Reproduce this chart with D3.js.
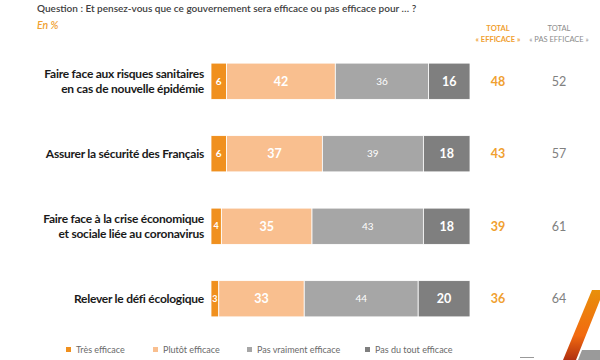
<!DOCTYPE html>
<html><head><meta charset="utf-8">
<script src="https://cdn.jsdelivr.net/npm/d3@7"></script>
<style>body{margin:0;background:#fff}svg{display:block;font-family:Lato,"Open Sans",sans-serif}</style>
</head><body><svg id="c" width="600" height="360"></svg>
<script>
const categories = [
  ["Faire face aux risques sanitaires","en cas de nouvelle épidémie"],
  ["Assurer la sécurité des Français"],
  ["Faire face à la crise économique","et sociale liée au coronavirus"],
  ["Relever le défi écologique"]
];
const seriesNames = ["Très efficace","Plutôt efficace","Pas vraiment efficace","Pas du tout efficace"];
const tresEfficace = [6,6,4,3];
const plutotEfficace = [42,37,35,33];
const pasVraiment = [36,39,43,44];
const pasDuTout = [16,18,18,20];
const totalEfficace = [48,43,39,36];
const totalPasEfficace = [52,57,61,64];
const colors = ["#F0901E","#F9BF8F","#A6A6A6","#7F7F7F"];

const svg = d3.select("#c");
const series = [tresEfficace, plutotEfficace, pasVraiment, pasDuTout];
const x = d3.scaleLinear().domain([0,100]).range([211,470]);
const y = d3.scaleBand().domain(d3.range(categories.length)).range([45,335]).paddingInner(0.5).paddingOuter(0.25);

// header
svg.append("text").attr("x",37).attr("y",12).attr("font-size",10).attr("font-weight",600).attr("fill","#404040")
  .text("Question : Et pensez-vous que ce gouvernement sera efficace ou pas efficace pour … ?");
svg.append("text").attr("x",37).attr("y",29).attr("font-size",10.5).attr("font-style","italic").attr("font-weight",600).attr("fill","#F0A030").text("En  %");
const hdr = [[498,"TOTAL","« EFFICACE »","#F0A030"],[559,"TOTAL","« PAS EFFICACE »","#8C8C8C"]];
hdr.forEach(h=>{
  const t = svg.append("text").attr("text-anchor","middle").attr("font-size",7.5).attr("fill",h[3]).attr("font-weight",h[3]==="#F0A030"?700:400);
  t.append("tspan").attr("x",h[0]).attr("y",31).text(h[1]);
  t.append("tspan").attr("x",h[0]).attr("y",42).text(h[2]);
});

const stacked = categories.map((c,i)=>{
  let acc=0;
  return series.map((s,k)=>{const o={i,k,v:s[i],x0:acc,x1:acc+s[i]};acc+=s[i];return o;});
});

const g = svg.append("g");
stacked.forEach(row=>{
  row.forEach(d=>{
    g.append("rect").attr("x",x(d.x0)).attr("y",y(d.i)).attr("width",x(d.x1)-x(d.x0)).attr("height",y.bandwidth())
      .attr("fill",colors[d.k]).attr("stroke","#fff").attr("stroke-width",0.8);
    const small = d.k===2;
    g.append("text").attr("x",(x(d.x0)+x(d.x1))/2).attr("y",y(d.i)+y.bandwidth()/2).attr("dy","0.35em")
      .attr("text-anchor","middle").attr("fill","#fff").attr("font-weight",small?400:700)
      .attr("font-size",d.k===0?(d.v<5?9:10):(small?10:12.5)).text(d.v);
  });
});

// category labels
categories.forEach((c,i)=>{
  const cy = y(i)+y.bandwidth()/2;
  const t = svg.append("text").attr("text-anchor","end").attr("font-size",12).attr("letter-spacing",-0.25).attr("font-weight",700).attr("fill","#1a1a1a");
  c.forEach((line,j)=>{
    t.append("tspan").attr("x",204).attr("y",cy + (j-(c.length-1)/2)*15).attr("dy","0.35em").text(line);
  });
  svg.append("text").attr("x",498).attr("y",cy).attr("dy","0.35em").attr("text-anchor","middle").attr("font-size",12.5).attr("font-weight",700).attr("fill","#F0A030").text(totalEfficace[i]);
  svg.append("text").attr("x",559).attr("y",cy).attr("dy","0.35em").attr("text-anchor","middle").attr("font-size",12.5).attr("fill","#808080").text(totalPasEfficace[i]);
});

// legend
const lx = [69,156,250,368];
seriesNames.forEach((n,k)=>{
  svg.append("rect").attr("x",lx[k]-3).attr("y",347).attr("width",5).attr("height",5).attr("fill",colors[k]);
  svg.append("text").attr("x",lx[k]+7).attr("y",350).attr("dy","0.35em").attr("font-size",9).attr("fill","#6a6a6a").text(n);
});

// decorative logo
const defs = svg.append("defs");
const grad = defs.append("linearGradient").attr("id","lg").attr("x1","0").attr("y1","0").attr("x2","0").attr("y2","1");
grad.append("stop").attr("offset","0%").attr("stop-color","#E8900A");
grad.append("stop").attr("offset","65%").attr("stop-color","#F26A10");
grad.append("stop").attr("offset","100%").attr("stop-color","#B03010");
svg.append("path").attr("d","M592,290 L604,290 L576,360 L563,360 Z").attr("fill","url(#lg)");
svg.append("path").attr("d","M582,350 L600,350 L600,360 L578,360 Z").attr("fill","#9a9a9a");
svg.append("rect").attr("x",520).attr("y",357).attr("width",14).attr("height",1).attr("fill","#999");
</script></body></html>
